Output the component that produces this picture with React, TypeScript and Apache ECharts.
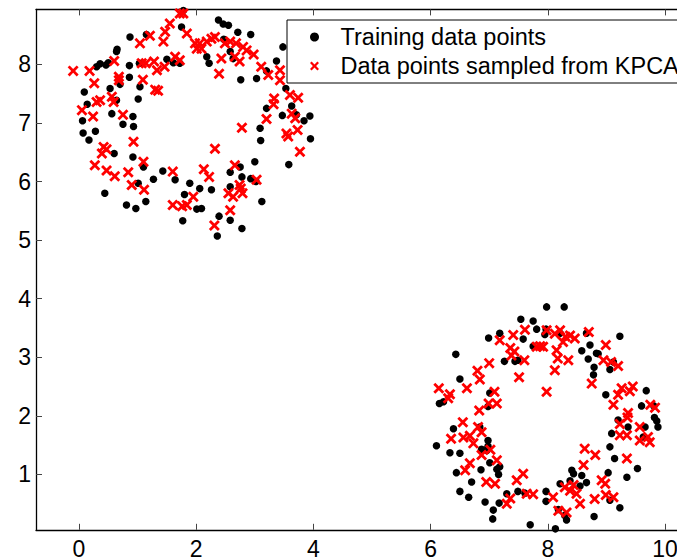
import React, { useEffect, useRef } from 'react';
import * as echarts from 'echarts';

const FONT = '"Liberation Sans", Arial, Helvetica, sans-serif';

const xTicks = [0, 2, 4, 6, 8, 10];
const yTicks = [1, 2, 3, 4, 5, 6, 7, 8];
const legendNames = ['Training data points', 'Data points sampled from KPCA'];

// Training data — upper-left ring
const trainingRing1 = [
  [1.78, 8.92], [1.75, 8.64], [2.38, 8.76], [2.46, 8.69], [2.55, 8.67], [2.71, 8.55], [2.93, 8.51],
  [0.87, 8.47], [1.15, 8.51], [2.47, 8.43], [2.22, 8.02], [2.18, 8.13], [2.58, 8.22], [2.63, 8.10],
  [2.76, 7.74], [3.03, 7.76], [3.48, 8.30], [3.37, 8.06], [3.20, 7.89], [3.53, 7.59], [3.63, 7.29],
  [3.20, 7.25], [3.71, 7.14], [3.84, 7.04], [3.94, 7.12], [3.95, 6.73], [3.58, 6.29], [3.09, 6.91],
  [3.10, 6.70], [3.00, 6.34], [2.93, 6.05], [3.02, 6.00], [2.78, 6.08], [2.58, 6.16], [2.58, 5.91],
  [3.12, 5.66], [2.78, 5.20], [2.58, 5.34], [2.36, 5.07], [2.39, 5.41], [2.26, 5.86], [2.06, 5.88],
  [2.01, 5.53], [2.09, 5.54], [1.89, 5.97], [1.80, 5.78], [1.77, 5.33], [1.64, 6.03], [1.43, 6.18],
  [1.27, 6.04], [1.14, 5.66], [0.97, 5.54], [0.81, 5.60], [0.44, 5.80], [1.01, 5.97], [0.92, 6.42],
  [1.10, 6.25], [0.60, 6.48], [0.93, 6.94], [0.92, 7.11], [0.75, 6.98], [0.56, 7.16], [0.64, 7.39],
  [0.53, 7.59], [0.70, 7.66], [0.86, 7.78], [1.04, 7.62], [1.01, 7.41], [0.09, 7.53], [0.14, 7.32],
  [0.06, 7.04], [0.07, 6.83], [0.17, 6.71], [0.28, 6.86], [0.30, 7.96], [0.36, 8.01], [0.46, 7.99],
  [0.50, 8.03], [0.64, 8.22], [0.65, 8.26], [0.86, 7.98], [1.03, 8.02], [1.50, 8.09], [1.61, 8.03],
  [1.72, 8.02], [3.47, 7.13], [2.75, 6.25],
];

// Training data — lower-right ring
const trainingRing2 = [
  [7.98, 3.86], [8.28, 3.86], [7.54, 3.65], [7.75, 3.62], [7.81, 3.48], [6.99, 3.33], [7.18, 3.41],
  [7.58, 3.31], [7.97, 3.48], [8.21, 3.41], [8.66, 3.41], [9.23, 3.36], [8.72, 3.21], [8.83, 3.07],
  [8.58, 3.11], [8.69, 2.97], [8.79, 2.83], [8.78, 2.70], [9.12, 2.92], [9.06, 2.79], [6.43, 3.05],
  [6.50, 2.63], [7.26, 2.93], [7.44, 2.93], [6.15, 2.21], [6.22, 2.24], [7.01, 2.39], [6.98, 2.16],
  [8.99, 2.36], [9.68, 2.43], [9.81, 2.17], [9.82, 1.97], [9.86, 1.91], [9.88, 1.81], [9.66, 1.81],
  [9.37, 1.81], [9.09, 1.70], [9.20, 1.93], [9.06, 1.47], [9.14, 1.27], [9.53, 1.10], [9.03, 1.03],
  [9.35, 0.95], [9.23, 0.43], [8.79, 0.28], [6.39, 1.78], [6.10, 1.49], [6.33, 1.37], [6.50, 1.36],
  [6.44, 1.03], [6.70, 0.87], [6.50, 0.71], [6.65, 0.61], [6.93, 0.53], [7.07, 0.39], [7.06, 0.24],
  [7.17, 0.51], [7.30, 0.67], [7.49, 0.71], [7.70, 0.14], [8.13, 0.07], [7.97, 0.71], [7.97, 0.54],
  [8.21, 0.84], [8.32, 0.22], [8.29, 0.30], [8.41, 1.07], [8.44, 1.01], [8.58, 0.98], [6.84, 1.81],
  [6.98, 1.58], [6.96, 1.41], [7.13, 1.09], [7.16, 1.00], [6.86, 1.08], [6.87, 1.43], [6.98, 1.48],
  [7.01, 1.20], [7.18, 1.13], [7.61, 0.68], [9.63, 1.64], [8.66, 0.86], [8.38, 0.89], [8.55, 0.80],
  [8.18, 0.40], [9.06, 0.56], [8.86, 3.06], [9.60, 2.17], [7.95, 3.39], [7.75, 3.19], [7.49, 2.95],
];

// Samples from KPCA — upper-left ring
const sampledRing1 = [
  [-0.10, 7.89], [0.18, 7.89], [0.26, 7.68], [0.05, 7.22], [0.24, 7.11], [0.30, 7.36], [0.36, 7.39],
  [0.56, 7.45], [0.59, 7.36], [0.60, 8.06], [0.68, 7.79], [0.68, 7.73], [0.75, 7.14], [0.93, 6.68],
  [1.04, 8.36], [1.21, 8.49], [1.07, 8.02], [1.14, 8.02], [1.09, 7.74], [1.28, 8.05], [1.33, 7.90],
  [1.30, 7.57], [1.35, 7.55], [1.46, 7.96], [1.44, 8.39], [1.47, 8.56], [1.55, 8.70], [1.72, 8.87],
  [1.78, 8.87], [1.64, 8.13], [1.72, 8.07], [1.84, 8.53], [1.98, 8.36], [2.06, 8.36], [2.01, 8.27],
  [2.09, 8.27], [2.18, 8.39], [2.32, 8.47], [2.43, 8.10], [2.39, 7.84], [2.58, 8.39], [2.68, 8.36],
  [2.74, 8.05], [2.80, 8.30], [2.98, 8.17], [3.11, 7.96], [3.23, 7.82], [3.43, 7.90], [3.43, 7.73],
  [3.33, 7.42], [3.32, 7.32], [3.20, 7.07], [2.78, 6.92], [3.60, 7.48], [3.74, 7.43], [3.63, 7.16],
  [3.69, 7.08], [3.54, 6.82], [3.57, 6.77], [3.73, 6.88], [3.77, 6.51], [0.42, 6.59], [0.47, 6.55],
  [0.27, 6.28], [0.47, 6.19], [0.61, 6.09], [0.84, 6.16], [0.90, 5.94], [1.10, 6.34], [1.11, 5.86],
  [1.60, 6.17], [2.13, 6.21], [2.22, 6.08], [1.60, 5.60], [1.76, 5.58], [1.95, 5.74], [2.32, 6.56],
  [2.66, 6.28], [2.55, 5.80], [2.63, 5.74], [2.76, 5.88], [2.79, 5.80], [2.74, 5.94], [2.58, 5.51],
  [2.31, 5.25], [3.03, 6.03], [2.49, 8.36], [2.66, 8.13], [2.86, 8.24], [2.26, 8.44], [0.39, 6.48],
  [1.84, 5.60],
];

// Samples from KPCA — lower-right ring
const sampledRing2 = [
  [6.14, 2.47], [6.33, 2.37], [6.30, 2.30], [6.62, 2.47], [6.80, 2.77], [6.84, 2.62], [7.00, 2.90],
  [7.09, 2.41], [7.13, 2.21], [6.99, 2.21], [7.18, 3.29], [7.41, 3.38], [7.61, 3.47], [7.36, 3.16],
  [7.43, 3.10], [7.60, 2.95], [7.51, 2.66], [7.81, 3.18], [7.87, 3.19], [7.92, 3.18], [7.98, 2.41],
  [7.98, 3.46], [8.12, 3.40], [8.21, 3.46], [8.15, 3.12], [8.12, 2.78], [8.35, 2.95], [8.30, 3.35],
  [8.38, 3.37], [8.46, 3.32], [8.70, 3.43], [8.99, 3.21], [8.95, 2.95], [9.08, 2.92], [9.20, 2.85],
  [8.75, 2.55], [9.26, 2.47], [9.20, 2.36], [9.40, 2.42], [9.45, 2.50], [9.12, 2.19], [9.37, 2.05],
  [9.36, 1.97], [9.23, 1.86], [9.75, 2.19], [9.83, 2.14], [9.57, 1.81], [9.71, 1.64], [9.57, 1.58],
  [9.74, 1.55], [9.35, 1.67], [9.23, 1.67], [9.35, 1.27], [8.63, 1.44], [8.81, 1.33], [8.61, 1.16],
  [8.92, 0.90], [8.98, 0.84], [8.80, 0.58], [9.12, 0.61], [8.44, 0.82], [8.38, 0.72], [8.49, 0.67],
  [8.29, 0.78], [8.55, 0.50], [8.09, 0.61], [8.18, 0.38], [8.32, 0.35], [7.58, 1.01], [7.47, 0.90],
  [7.64, 0.67], [7.75, 0.66], [7.30, 0.50], [7.36, 0.59], [6.95, 0.87], [7.10, 0.84], [6.59, 1.07],
  [6.67, 1.19], [6.87, 1.33], [7.02, 1.42], [7.13, 1.24], [6.35, 1.61], [6.55, 1.89], [6.67, 1.66],
  [6.81, 1.81], [6.87, 1.72], [6.73, 1.53], [6.56, 1.63], [7.38, 3.03], [6.83, 2.09], [8.26, 3.26],
  [8.17, 2.98], [8.99, 0.65],
];

const X_MIN = -0.734;
const X_MAX = 10.7;
const Y_MIN = 0.054;
const Y_MAX = 8.94;

export default function App() {
  const ref = useRef<HTMLDivElement>(null);

  useEffect(() => {
    if (!ref.current) return;
    const chart = echarts.init(ref.current, null, { renderer: 'svg' });
    const crossSymbol =
      'path://M0,1.8L1.8,0L5,3.2L8.2,0L10,1.8L6.8,5L10,8.2L8.2,10L5,6.8L1.8,10L0,8.2L3.2,5Z';
    const axisLine = { show: true, onZero: false, lineStyle: { color: '#000', width: 1.3 } };
    const tickStyle = { color: '#444', width: 1 };

    chart.setOption({
      animation: false,
      backgroundColor: '#fff',
      textStyle: { fontFamily: FONT },
      grid: {
        left: 36,
        top: 9.4,
        width: 670,
        height: 520.4,
        containLabel: false,
        outerBoundsMode: 'none',
      },
      xAxis: [
        {
          type: 'value',
          min: X_MIN,
          max: X_MAX,
          position: 'bottom',
          axisLine,
          axisTick: { show: true, inside: true, length: 6, customValues: xTicks, lineStyle: tickStyle },
          axisLabel: {
            show: true,
            customValues: xTicks,
            fontSize: 23,
            color: '#000',
            margin: 8,
            fontFamily: FONT,
          },
          splitLine: { show: false },
        },
        {
          type: 'value',
          min: X_MIN,
          max: X_MAX,
          position: 'top',
          axisLine,
          axisTick: { show: true, inside: true, length: 6, customValues: xTicks, lineStyle: tickStyle },
          axisLabel: { show: false },
          splitLine: { show: false },
        },
      ],
      yAxis: [
        {
          type: 'value',
          min: Y_MIN,
          max: Y_MAX,
          position: 'left',
          axisLine,
          axisTick: { show: true, inside: true, length: 6, customValues: yTicks, lineStyle: tickStyle },
          axisLabel: {
            show: true,
            customValues: yTicks,
            fontSize: 23,
            color: '#000',
            margin: 5,
            fontFamily: FONT,
          },
          splitLine: { show: false },
        },
      ],
      legend: {
        left: 287,
        top: 20,
        orient: 'vertical',
        backgroundColor: '#fff',
        borderColor: '#000',
        borderWidth: 1,
        borderRadius: 0,
        padding: [5, 40, 5, 23],
        itemWidth: 42,
        itemHeight: 9,
        itemGap: 5,
        selectedMode: false,
        textStyle: { fontSize: 23.5, lineHeight: 24, color: '#000', fontFamily: FONT },
        data: legendNames,
      },
      series: [
        {
          name: legendNames[0],
          type: 'scatter',
          xAxisIndex: 0,
          yAxisIndex: 0,
          symbol: 'circle',
          symbolSize: 7.5,
          itemStyle: { color: '#000', opacity: 1 },
          emphasis: { disabled: true },
          z: 2,
          data: [...trainingRing1, ...trainingRing2],
        },
        {
          name: legendNames[1],
          type: 'scatter',
          xAxisIndex: 0,
          yAxisIndex: 0,
          symbol: crossSymbol,
          symbolSize: 11,
          itemStyle: { color: '#ff0000', opacity: 1 },
          emphasis: { disabled: true },
          z: 3,
          data: [...sampledRing1, ...sampledRing2],
        },
      ],
    });

    return () => chart.dispose();
  }, []);

  return (
    <div
      ref={ref}
      style={{ position: 'fixed', left: 0, top: 0, width: 677, height: 557, background: '#fff' }}
    />
  );
}
